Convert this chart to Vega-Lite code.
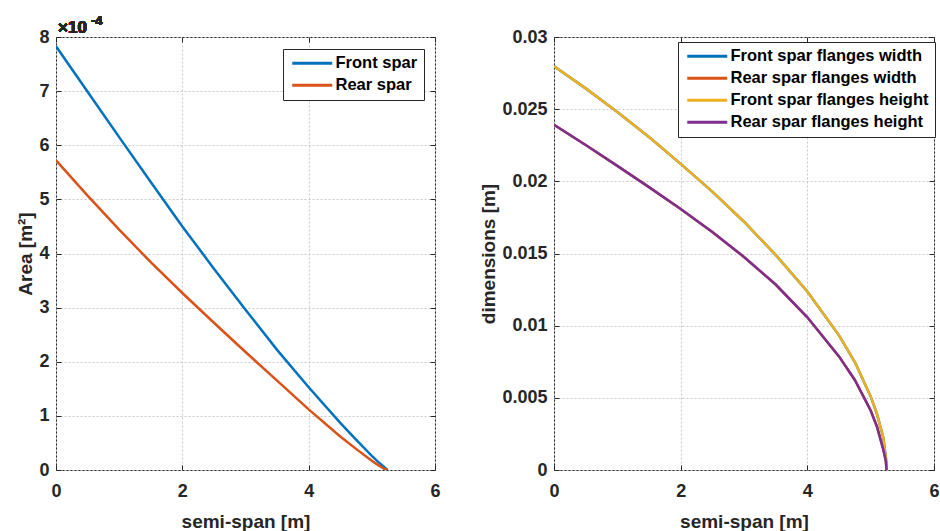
{
  "$schema": "https://vega.github.io/schema/vega-lite/v6.json",
  "background": "white",
  "padding": {"left": 15, "top": 14, "right": 5, "bottom": 5},
  "spacing": 119,
  "bounds": "flush",
  "datasets": {
    "area": [
      {"x": 0, "area_e4": 7.83, "series": "Front spar"},
      {"x": 0.5, "area_e4": 6.99, "series": "Front spar"},
      {"x": 1, "area_e4": 6.15, "series": "Front spar"},
      {"x": 1.5, "area_e4": 5.32, "series": "Front spar"},
      {"x": 2, "area_e4": 4.50, "series": "Front spar"},
      {"x": 2.5, "area_e4": 3.72, "series": "Front spar"},
      {"x": 3, "area_e4": 2.96, "series": "Front spar"},
      {"x": 3.5, "area_e4": 2.22, "series": "Front spar"},
      {"x": 4, "area_e4": 1.53, "series": "Front spar"},
      {"x": 4.5, "area_e4": 0.87, "series": "Front spar"},
      {"x": 4.75, "area_e4": 0.56, "series": "Front spar"},
      {"x": 5, "area_e4": 0.26, "series": "Front spar"},
      {"x": 5.1, "area_e4": 0.15, "series": "Front spar"},
      {"x": 5.2, "area_e4": 0.05, "series": "Front spar"},
      {"x": 5.24, "area_e4": 0.008, "series": "Front spar"},
      {"x": 5.25, "area_e4": 0, "series": "Front spar"},
      {"x": 0, "area_e4": 5.72, "series": "Rear spar"},
      {"x": 0.5, "area_e4": 5.07, "series": "Rear spar"},
      {"x": 1, "area_e4": 4.44, "series": "Rear spar"},
      {"x": 1.5, "area_e4": 3.84, "series": "Rear spar"},
      {"x": 2, "area_e4": 3.27, "series": "Rear spar"},
      {"x": 2.5, "area_e4": 2.72, "series": "Rear spar"},
      {"x": 3, "area_e4": 2.18, "series": "Rear spar"},
      {"x": 3.5, "area_e4": 1.65, "series": "Rear spar"},
      {"x": 4, "area_e4": 1.12, "series": "Rear spar"},
      {"x": 4.5, "area_e4": 0.62, "series": "Rear spar"},
      {"x": 4.75, "area_e4": 0.39, "series": "Rear spar"},
      {"x": 5, "area_e4": 0.17, "series": "Rear spar"},
      {"x": 5.1, "area_e4": 0.09, "series": "Rear spar"},
      {"x": 5.2, "area_e4": 0.02, "series": "Rear spar"},
      {"x": 5.24, "area_e4": 0.004, "series": "Rear spar"},
      {"x": 5.25, "area_e4": 0, "series": "Rear spar"}
    ],
    "dims": [
      {"x": 0, "dim": 0.02798, "series": "Front spar flanges width"},
      {"x": 0.5, "dim": 0.02644, "series": "Front spar flanges width"},
      {"x": 1, "dim": 0.02480, "series": "Front spar flanges width"},
      {"x": 1.5, "dim": 0.02307, "series": "Front spar flanges width"},
      {"x": 2, "dim": 0.02121, "series": "Front spar flanges width"},
      {"x": 2.5, "dim": 0.01929, "series": "Front spar flanges width"},
      {"x": 3, "dim": 0.01720, "series": "Front spar flanges width"},
      {"x": 3.5, "dim": 0.01490, "series": "Front spar flanges width"},
      {"x": 4, "dim": 0.01237, "series": "Front spar flanges width"},
      {"x": 4.5, "dim": 0.00933, "series": "Front spar flanges width"},
      {"x": 4.75, "dim": 0.00748, "series": "Front spar flanges width"},
      {"x": 5, "dim": 0.00510, "series": "Front spar flanges width"},
      {"x": 5.1, "dim": 0.00387, "series": "Front spar flanges width"},
      {"x": 5.2, "dim": 0.00224, "series": "Front spar flanges width"},
      {"x": 5.24, "dim": 0.00089, "series": "Front spar flanges width"},
      {"x": 5.25, "dim": 0, "series": "Front spar flanges width"},
      {"x": 0, "dim": 0.02392, "series": "Rear spar flanges width"},
      {"x": 0.5, "dim": 0.02252, "series": "Rear spar flanges width"},
      {"x": 1, "dim": 0.02107, "series": "Rear spar flanges width"},
      {"x": 1.5, "dim": 0.01960, "series": "Rear spar flanges width"},
      {"x": 2, "dim": 0.01808, "series": "Rear spar flanges width"},
      {"x": 2.5, "dim": 0.01649, "series": "Rear spar flanges width"},
      {"x": 3, "dim": 0.01476, "series": "Rear spar flanges width"},
      {"x": 3.5, "dim": 0.01285, "series": "Rear spar flanges width"},
      {"x": 4, "dim": 0.01058, "series": "Rear spar flanges width"},
      {"x": 4.5, "dim": 0.00787, "series": "Rear spar flanges width"},
      {"x": 4.75, "dim": 0.00624, "series": "Rear spar flanges width"},
      {"x": 5, "dim": 0.00412, "series": "Rear spar flanges width"},
      {"x": 5.1, "dim": 0.00300, "series": "Rear spar flanges width"},
      {"x": 5.2, "dim": 0.00141, "series": "Rear spar flanges width"},
      {"x": 5.24, "dim": 0.00063, "series": "Rear spar flanges width"},
      {"x": 5.25, "dim": 0, "series": "Rear spar flanges width"},
      {"x": 0, "dim": 0.02798, "series": "Front spar flanges height"},
      {"x": 0.5, "dim": 0.02644, "series": "Front spar flanges height"},
      {"x": 1, "dim": 0.02480, "series": "Front spar flanges height"},
      {"x": 1.5, "dim": 0.02307, "series": "Front spar flanges height"},
      {"x": 2, "dim": 0.02121, "series": "Front spar flanges height"},
      {"x": 2.5, "dim": 0.01929, "series": "Front spar flanges height"},
      {"x": 3, "dim": 0.01720, "series": "Front spar flanges height"},
      {"x": 3.5, "dim": 0.01490, "series": "Front spar flanges height"},
      {"x": 4, "dim": 0.01237, "series": "Front spar flanges height"},
      {"x": 4.5, "dim": 0.00933, "series": "Front spar flanges height"},
      {"x": 4.75, "dim": 0.00748, "series": "Front spar flanges height"},
      {"x": 5, "dim": 0.00510, "series": "Front spar flanges height"},
      {"x": 5.1, "dim": 0.00387, "series": "Front spar flanges height"},
      {"x": 5.2, "dim": 0.00224, "series": "Front spar flanges height"},
      {"x": 5.24, "dim": 0.00089, "series": "Front spar flanges height"},
      {"x": 5.25, "dim": 0, "series": "Front spar flanges height"},
      {"x": 0, "dim": 0.02392, "series": "Rear spar flanges height"},
      {"x": 0.5, "dim": 0.02252, "series": "Rear spar flanges height"},
      {"x": 1, "dim": 0.02107, "series": "Rear spar flanges height"},
      {"x": 1.5, "dim": 0.01960, "series": "Rear spar flanges height"},
      {"x": 2, "dim": 0.01808, "series": "Rear spar flanges height"},
      {"x": 2.5, "dim": 0.01649, "series": "Rear spar flanges height"},
      {"x": 3, "dim": 0.01476, "series": "Rear spar flanges height"},
      {"x": 3.5, "dim": 0.01285, "series": "Rear spar flanges height"},
      {"x": 4, "dim": 0.01058, "series": "Rear spar flanges height"},
      {"x": 4.5, "dim": 0.00787, "series": "Rear spar flanges height"},
      {"x": 4.75, "dim": 0.00624, "series": "Rear spar flanges height"},
      {"x": 5, "dim": 0.00412, "series": "Rear spar flanges height"},
      {"x": 5.1, "dim": 0.00300, "series": "Rear spar flanges height"},
      {"x": 5.2, "dim": 0.00141, "series": "Rear spar flanges height"},
      {"x": 5.24, "dim": 0.00063, "series": "Rear spar flanges height"},
      {"x": 5.25, "dim": 0, "series": "Rear spar flanges height"}
    ]
  },
  "config": {
    "font": "Liberation Sans",
    "view": {"stroke": "#262626", "strokeWidth": 1},
    "axis": {
      "labelFont": "Liberation Sans", "labelFontSize": 18, "labelFontWeight": "bold", "labelColor": "#262626",
      "titleFont": "Liberation Sans", "titleFontSize": 19, "titleFontWeight": "bold", "titleColor": "#262626",
      "domain": false, "tickColor": "#262626", "tickSize": -5, "tickWidth": 1,
      "gridColor": "#c8c8c8", "gridDash": [2, 2], "gridWidth": 1,
      "labelFlush": false, "labelOverlap": false
    },
    "axisX": {"labelPadding": 17, "titleY": 51, "titleBaseline": "middle"},
    "axisY": {"labelPadding": 12, "titleBaseline": "middle", "titleAngle": -90},
    "legend": {
      "labelFont": "Liberation Sans", "labelFontSize": 16.5, "labelFontWeight": "bold", "labelColor": "#000000", "labelLimit": 0,
      "symbolType": "M-1,0H7", "symbolSize": 100, "symbolStrokeWidth": 3, "labelOffset": 30,
      "padding": 6, "rowPadding": 5, "strokeColor": "#262626", "fillColor": "white", "cornerRadius": 0
    }
  },
  "resolve": {"scale": {"color": "independent"}, "legend": {"color": "independent"}},
  "hconcat": [
    {
      "width": 379,
      "height": 433,
      "data": {"name": "area"},
      "layer": [
        {
          "mark": {"type": "line", "strokeWidth": 2.5, "clip": true},
          "encoding": {
            "x": {"field": "x", "type": "quantitative", "scale": {"domain": [0, 6], "nice": false},
                  "axis": {"values": [0, 2, 4, 6], "title": "semi-span [m]"}},
            "y": {"field": "area_e4", "type": "quantitative", "scale": {"domain": [0, 8], "nice": false},
                  "axis": {"values": [0, 1, 2, 3, 4, 5, 6, 7, 8], "title": "Area [m²]", "titleX": -31}},
            "color": {"field": "series", "type": "nominal",
                      "scale": {"domain": ["Front spar", "Rear spar"], "range": ["#0072BD", "#D95319"]},
                      "legend": {"title": null, "orient": "none", "legendX": 227, "legendY": 12, "symbolType": "M-1,0H7"}}
          }
        },
        {
          "mark": {"type": "line", "opacity": 0},
          "encoding": {
            "x": {"field": "x", "type": "quantitative",
                  "axis": {"orient": "top", "values": [0, 2, 4, 6], "labels": false, "title": null, "grid": false, "minExtent": 0, "maxExtent": 0}},
            "y": {"field": "area_e4", "type": "quantitative",
                  "axis": {"orient": "right", "values": [0, 1, 2, 3, 4, 5, 6, 7, 8], "labels": false, "title": null, "grid": false, "minExtent": 0, "maxExtent": 0}},
            "detail": {"field": "series"}
          }
        },
        {
          "mark": {"type": "text", "text": "×10", "align": "left", "baseline": "alphabetic", "dx": 2, "dy": -4, "fontSize": 17, "fontWeight": "bold", "font": "Liberation Sans", "color": "#262626"},
          "encoding": {"x": {"datum": 0, "axis": null}, "y": {"datum": 8, "axis": null}}
        },
        {
          "mark": {"type": "text", "text": "-4", "align": "left", "baseline": "alphabetic", "dx": 35, "dy": -12, "fontSize": 13, "fontWeight": "bold", "font": "Liberation Sans", "color": "#262626"},
          "encoding": {"x": {"datum": 0, "axis": null}, "y": {"datum": 8, "axis": null}}
        }
      ],
      "resolve": {"axis": {"x": "independent", "y": "independent"}}
    },
    {
      "width": 380,
      "height": 433,
      "data": {"name": "dims"},
      "layer": [
        {
          "transform": [{"filter": "indexof(datum.series, 'width') >= 0"}],
          "mark": {"type": "line", "strokeWidth": 2.5, "clip": true},
          "encoding": {
            "x": {"field": "x", "type": "quantitative", "scale": {"domain": [0, 6], "nice": false},
                  "axis": {"values": [0, 2, 4, 6], "title": "semi-span [m]"}},
            "y": {"field": "dim", "type": "quantitative", "scale": {"domain": [0, 0.03], "nice": false},
                  "axis": {"values": [0, 0.005, 0.01, 0.015, 0.02, 0.025, 0.03], "format": "~g", "title": "dimensions [m]", "titleX": -66}},
            "color": {"field": "series", "type": "nominal",
                      "scale": {"domain": ["Front spar flanges width", "Rear spar flanges width", "Front spar flanges height", "Rear spar flanges height"],
                                "range": ["#0072BD", "#D95319", "#EDB120", "#7E2F8E"]},
                      "legend": {"title": null, "orient": "none", "legendX": 124, "legendY": 5, "symbolType": "M-1,0H7"}}
          }
        },
        {
          "transform": [{"filter": "indexof(datum.series, 'height') >= 0"}],
          "mark": {"type": "line", "strokeWidth": 2.5, "clip": true},
          "encoding": {
            "x": {"field": "x", "type": "quantitative", "axis": null},
            "y": {"field": "dim", "type": "quantitative", "axis": null},
            "color": {"field": "series", "type": "nominal"}
          }
        },
        {
          "mark": {"type": "line", "opacity": 0},
          "encoding": {
            "x": {"field": "x", "type": "quantitative",
                  "axis": {"orient": "top", "values": [0, 2, 4, 6], "labels": false, "title": null, "grid": false, "minExtent": 0, "maxExtent": 0}},
            "y": {"field": "dim", "type": "quantitative",
                  "axis": {"orient": "right", "values": [0, 0.005, 0.01, 0.015, 0.02, 0.025, 0.03], "labels": false, "title": null, "grid": false, "minExtent": 0, "maxExtent": 0}},
            "detail": {"field": "series"}
          }
        }
      ],
      "resolve": {"axis": {"x": "independent", "y": "independent"}}
    }
  ]
}
